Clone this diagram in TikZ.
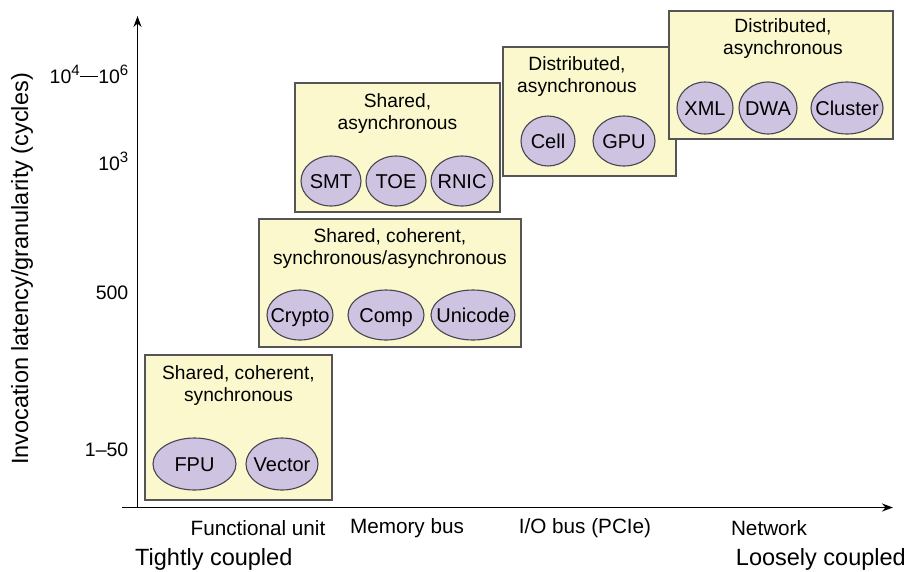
\documentclass[tikz,border=0pt]{standalone}
\usepackage{fontspec}
\setmainfont{Liberation Sans}
\usetikzlibrary{shapes.geometric,arrows.meta}

\definecolor{boxfill}{RGB}{250,248,204}
\definecolor{boxedge}{RGB}{85,85,85}
\definecolor{ovalfill}{RGB}{207,195,226}
\definecolor{ovaledge}{RGB}{70,70,80}

% raised exponent sized for the 19pt tick labels
\newcommand\expo[1]{\raisebox{0.42em}{\fontsize{15}{15}\selectfont #1}}
% zero-width label so an oval keeps its given size
\newcommand\ovaltext[1]{\makebox[0pt]{#1}}

\tikzset{
  panel/.style={draw=boxedge, fill=boxfill, line width=1.3pt, rectangle, inner sep=0pt},
  unit/.style={draw=ovaledge, fill=ovalfill, line width=1.1pt, ellipse, inner sep=0pt,
               text height=14.3pt, text depth=0pt,
               font=\fontsize{20}{22}\selectfont},
  paneltitle/.style={align=center, font=\fontsize{19.2}{22}\selectfont, inner sep=0pt},
  ticklab/.style={anchor=east, font=\fontsize{19.5}{22}\selectfont, inner sep=0pt},
  catlab/.style={font=\fontsize{20.7}{22}\selectfont, inner sep=0pt},
  endlab/.style={font=\fontsize{23.5}{26}\selectfont, inner sep=0pt},
  axis/.style={line width=1.8pt, -{Stealth[length=11pt,width=8pt]}}
}

\begin{document}
\begin{tikzpicture}[x=1pt, y=-1pt]
  \useasboundingbox (0,0) rectangle (909,571);

  % axes
  \coordinate (xs) at (122,507.5);
  \coordinate (xe) at (893,507.5);
  \coordinate (ys) at (137.5,507.5);
  \coordinate (ye) at (137.5,16);
  \draw[axis] (xs) -- (xe);
  \draw[axis] (ys) -- (ye);

  % axis title and ticks
  \node[endlab, rotate=90] (ytitle) at (22,269) {Invocation latency/granularity (cycles)};
  \node[ticklab] (t4) at (128.5,74) {10\expo{4}\rule[0.3em]{0.95em}{0.09em}10\expo{6}};
  \node[ticklab] (t3) at (128.5,161) {10\expo{3}};
  \node[ticklab] (t2) at (128.5,293) {500};
  \node[ticklab] (t1) at (128.5,450) {1–50};

  \node[catlab] (c1) at (258,528) {Functional unit};
  \node[catlab] (c2) at (407,528) {Memory bus};
  \node[catlab] (c3) at (585,528) {I/O bus (PCIe)};
  \node[catlab] (c4) at (769,528) {Network};

  \node[endlab, anchor=west] (tight) at (135,559) {Tightly coupled};
  \node[endlab, anchor=east] (loose) at (906,559) {Loosely coupled};

  % panel 1
  \node[panel, minimum width=187pt, minimum height=145pt] (p1) at (238.5,427.5) {};
  \node[paneltitle] (p1t) at (238.5,386) {Shared, coherent,\\synchronous};
  \node[unit, minimum width=83pt, minimum height=52pt] (fpu) at (194.5,464) {\ovaltext{FPU}};
  \node[unit, minimum width=72pt, minimum height=52pt] (vec) at (282,464) {\ovaltext{Vector}};

  % panel 2
  \node[panel, minimum width=262pt, minimum height=128pt] (p2) at (390,283) {};
  \node[paneltitle] (p2t) at (390,249) {Shared, coherent,\\synchronous/asynchronous};
  \node[unit, minimum width=66pt, minimum height=50pt] (cry) at (300,315) {\ovaltext{Crypto}};
  \node[unit, minimum width=76pt, minimum height=50pt] (cmp) at (386,315) {\ovaltext{Comp}};
  \node[unit, minimum width=84pt, minimum height=50pt] (uni) at (473,315) {\ovaltext{Unicode}};

  % panel 3
  \node[panel, minimum width=205pt, minimum height=129pt] (p3) at (397.5,147.5) {};
  \node[paneltitle] (p3t) at (397.5,114) {Shared,\\asynchronous};
  \node[unit, minimum width=60pt, minimum height=50pt] (smt) at (331,181) {\ovaltext{SMT}};
  \node[unit, minimum width=60pt, minimum height=50pt] (toe) at (396,181) {\ovaltext{TOE}};
  \node[unit, minimum width=62pt, minimum height=50pt] (rnic) at (462,181) {\ovaltext{RNIC}};

  % panel 4
  \node[panel, minimum width=173pt, minimum height=129pt] (p4) at (589.5,111.5) {};
  \node[paneltitle] (p4t) at (577,77) {Distributed,\\asynchronous};
  \node[unit, minimum width=54pt, minimum height=50pt] (cell) at (548,141) {\ovaltext{Cell}};
  \node[unit, minimum width=62pt, minimum height=50pt] (gpu) at (624,141) {\ovaltext{GPU}};

  % panel 5
  \node[panel, minimum width=224pt, minimum height=128pt] (p5) at (781,75) {};
  \node[paneltitle] (p5t) at (783,39) {Distributed,\\asynchronous};
  \node[unit, minimum width=56pt, minimum height=52pt] (xml) at (705,108) {\ovaltext{XML}};
  \node[unit, minimum width=58pt, minimum height=52pt] (dwa) at (768,108) {\ovaltext{DWA}};
  \node[unit, minimum width=72pt, minimum height=52pt] (clu) at (847,108) {\ovaltext{Cluster}};
\end{tikzpicture}
\end{document}
